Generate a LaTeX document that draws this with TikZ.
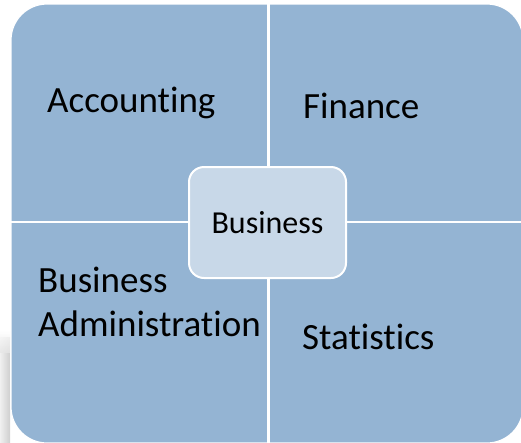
\documentclass[tikz,border=0pt]{standalone}
\usepackage{fontspec}
\setmainfont{Carlito}[Ligatures={NoCommon}]
\definecolor{quadblue}{RGB}{148,180,211}
\definecolor{centerblue}{RGB}{200,216,232}
\tikzset{
  quad/.style={fill=quadblue},
  divider/.style={draw=white, line width=2.5pt},
  outertext/.style={anchor=base west, inner sep=0pt, font=\fontsize{37}{44}\selectfont, text=black},
  centerbox/.style={draw=white, line width=2pt, fill=centerblue, rounded corners=15pt, minimum width=157pt, minimum height=111pt, inner sep=0pt, font=\fontsize{32}{38}\selectfont}
}
\begin{document}
\begin{tikzpicture}[x=1pt,y=-1pt]
\useasboundingbox (0,0) rectangle (521,442);
% shadow at left
\shade[left color=gray!12, right color=gray!38] (0,337) rectangle (10,442);
\shade[top color=white, bottom color=gray!20, opacity=0.8] (0,330) rectangle (10,352);
% quadrants
\fill[quad, rounded corners=36pt] (11,4) rectangle (523,443);
\draw[white, line width=1.2pt, rounded corners=36pt] (11,4) rectangle (523,443);
\draw[divider] (268.5,4) -- (268.5,443);
\draw[divider] (11,222) -- (523,222);
% texts
\node[outertext] (acc) at (47,112) {Accounting};
\node[outertext] (fin) at (303,118) {Finance};
\node[outertext] (stat) at (302,349) {Statistics};
\node[outertext, align=left] (badm) at (38,336) {Business\\Administration};
% center
\node[centerbox] (bus) at (267.5,222.5) {Business};
\end{tikzpicture}
\end{document}
